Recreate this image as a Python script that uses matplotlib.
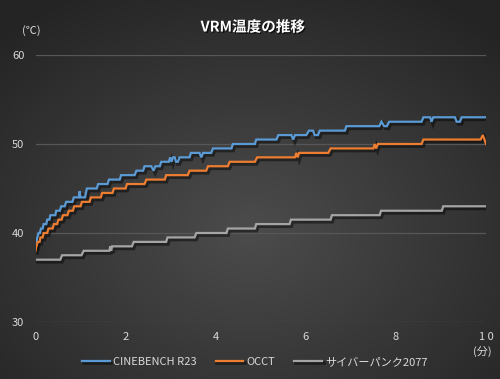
import numpy as np
import matplotlib
matplotlib.use('Agg')
import matplotlib.pyplot as plt
import matplotlib.patheffects as pe

plt.rcParams['font.family'] = ['Noto Sans CJK JP', 'DejaVu Sans']

# data (minutes, deg C)
cine_t = [0, 0.02, 0.04, 0.07, 0.1, 0.12, 0.16, 0.18, 0.24, 0.26, 0.31, 0.33, 0.44, 0.46,
          0.54, 0.57, 0.65, 0.68, 0.82, 0.85, 0.96, 0.98, 1.0, 1.1, 1.14, 1.36, 1.39, 1.6,
          1.63, 1.87, 1.9, 2.2, 2.24, 2.39, 2.42, 2.57, 2.62, 2.66, 2.76, 2.79, 2.96, 2.99,
          3.02, 3.05, 3.09, 3.12, 3.16, 3.2, 3.42, 3.45, 3.64, 3.68, 3.72, 3.9, 3.94, 4.35,
          4.38, 4.87, 4.9, 5.35, 5.39, 5.68, 5.72, 5.76, 6.01, 6.07, 6.16, 6.2, 6.27, 6.31,
          6.87, 6.9, 7.63, 7.68, 7.74, 7.8, 7.85, 8.57, 8.61, 8.76, 8.79, 8.83, 9.31, 9.35,
          9.42, 9.46, 10]
cine_v = [38.5, 39.0, 39.5, 40.0, 40.0, 40.5, 40.5, 41.0, 41.0, 41.5, 41.5, 42.0, 42.0, 42.5,
          42.5, 43.0, 43.0, 43.5, 43.5, 44.0, 44.0, 44.7, 44.0, 44.0, 45.0, 45.0, 45.5, 45.5,
          46.0, 46.0, 46.5, 46.5, 47.0, 47.0, 47.5, 47.5, 47.0, 47.5, 47.5, 48.0, 48.0, 48.5,
          48.0, 48.5, 48.5, 48.0, 48.0, 48.5, 48.5, 49.0, 49.0, 48.5, 49.0, 49.0, 49.5, 49.5,
          50.0, 50.0, 50.5, 50.5, 51.0, 51.0, 50.5, 51.0, 51.0, 51.5, 51.5, 51.0, 51.0, 51.5,
          51.5, 52.0, 52.0, 52.5, 52.0, 52.0, 52.5, 52.5, 53.0, 53.0, 52.5, 53.0, 53.0, 52.5,
          52.5, 53.0, 53.0]

occt_t = [0, 0.02, 0.05, 0.09, 0.11, 0.16, 0.18, 0.26, 0.29, 0.38, 0.41, 0.48, 0.51, 0.58,
          0.61, 0.71, 0.74, 0.83, 0.86, 1.0, 1.03, 1.2, 1.23, 1.45, 1.48, 1.71, 1.74, 2.0,
          2.03, 2.42, 2.46, 2.87, 2.9, 3.38, 3.42, 3.79, 3.83, 4.27, 4.31, 4.87, 4.92, 5.76,
          5.79, 5.82, 5.85, 6.5, 6.55, 7.5, 7.53, 7.56, 7.6, 8.57, 8.61, 9.88, 9.93, 10]
occt_v = [38.0, 38.5, 39.0, 39.0, 39.5, 39.5, 40.0, 40.0, 40.5, 40.5, 41.0, 41.0, 41.5, 41.5,
          42.0, 42.0, 42.5, 42.5, 43.0, 43.0, 43.5, 43.5, 44.0, 44.0, 44.5, 44.5, 45.0, 45.0,
          45.5, 45.5, 46.0, 46.0, 46.5, 46.5, 47.0, 47.0, 47.5, 47.5, 48.0, 48.0, 48.5, 48.5,
          49.0, 48.5, 49.0, 49.0, 49.5, 49.5, 50.0, 49.5, 50.0, 50.0, 50.5, 50.5, 51.0, 50.0]

cp_t = [0, 0.55, 0.59, 1.02, 1.07, 1.64, 1.66, 1.68, 1.7, 2.14, 2.18, 2.9, 2.93, 3.53, 3.57,
        4.24, 4.27, 4.87, 4.9, 5.64, 5.67, 6.55, 6.58, 7.64, 7.67, 9.02, 9.05, 10]
cp_v = [37.0, 37.0, 37.5, 37.5, 38.0, 38.0, 38.5, 38.0, 38.5, 38.5, 39.0, 39.0, 39.5, 39.5,
        40.0, 40.0, 40.5, 40.5, 41.0, 41.0, 41.5, 41.5, 42.0, 42.0, 42.5, 42.5, 43.0, 43.0]

names = ['CINEBENCH R23', 'OCCT', 'サイバーパンク2077']
colors = ['#5B9BD5', '#ED7D31', '#A5A5A5']
x_ticks = [0, 2, 4, 6, 8, 10]
x_labels = ['0', '2', '4', '6', '8', '1 0']
y_ticks = [30, 40, 50, 60]

txt = '#d9d9d9'

fig = plt.figure(figsize=(5, 3.79), dpi=100)

# radial gradient background
bg = fig.add_axes([0, 0, 1, 1], zorder=-10)
yy, xx = np.mgrid[0:379, 0:500]
r = np.sqrt(((xx - 250) / 500) ** 2 + ((yy - 230) / 379) ** 2) / 0.72
r = np.clip(r, 0, 1)
g = (0x4c * (1 - r) + 0x24 * r) / 255
bg.imshow(np.dstack([g, g, g]), aspect='auto', extent=[0, 1, 0, 1])
bg.axis('off')

ax = fig.add_axes([0.071, 0.1504, 0.901, 0.7045])
ax.set_facecolor('none')

shadow = [pe.SimpleLineShadow(offset=(1.2, -1.5), shadow_color='black', alpha=0.45, linewidth=2.6),
          pe.Normal()]
for t, v, c, n in zip([cine_t, occt_t, cp_t], [cine_v, occt_v, cp_v], colors, names):
    ax.plot(t, v, color=c, lw=1.6, label=n, path_effects=shadow, solid_joinstyle='miter')

ax.set_xlim(0, 10)
ax.set_ylim(30, 60)
ax.set_xticks(x_ticks)
ax.set_xticklabels(x_labels)
ax.set_yticks(y_ticks)
ax.grid(axis='y', color='#575757', lw=0.9)
ax.set_axisbelow(True)
for s in ax.spines.values():
    s.set_visible(False)
ax.tick_params(length=0, colors=txt, labelsize=8)
ax.tick_params(axis='x', pad=7)
ax.tick_params(axis='y', pad=8)

fig.text(0.506, 0.93, 'VRM温度の推移', color='white', fontsize=10.5, fontweight='bold',
         ha='center', va='center',
         path_effects=[pe.SimplePatchShadow(offset=(1, -1), shadow_rgbFace='black', alpha=0.6),
                       pe.Normal()])
fig.text(0.062, 0.92, '(℃)', color=txt, fontsize=8, ha='center', va='center')
fig.text(0.964, 0.072, '(分)', color=txt, fontsize=8, ha='center', va='center')

leg = fig.legend(loc='center', bbox_to_anchor=(0.51, 0.045), ncol=3, frameon=False,
                 fontsize=8, handlelength=2.5, handletextpad=0.3, columnspacing=1.7)
for tx in leg.get_texts():
    tx.set_color(txt)

fig.savefig('out.png', dpi=100)
